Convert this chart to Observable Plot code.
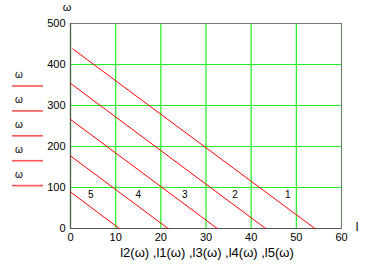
<!DOCTYPE html>
<html><head><meta charset="utf-8">
<script src="https://cdn.jsdelivr.net/npm/d3@7"></script>
<script src="https://cdn.jsdelivr.net/npm/@observablehq/plot@0.6"></script>
<style>body{margin:0;background:#fff;font-family:Arial,"Liberation Sans",sans-serif}</style>
</head><body><div id="chart"></div>
<script>
const seriesNames = ["1","2","3","4","5"];
const startX = [0.5, 0, 0, 0, 0];
const startY = [438, 354, 266, 177, 89];
const endX = [54.1, 43.2, 32.5, 21.6, 10.8];
const endY = [0, 0, 0, 0, 0];
const labelX = [48.1, 36.4, 25.3, 15.0, 4.5];
const labelY = [82, 82, 82, 82, 82];
const xTicks = [0, 10, 20, 30, 40, 50, 60];
const yTicks = [0, 100, 200, 300, 400, 500];
const legendLabels = ["ω","ω","ω","ω","ω"];

const lines = [];
seriesNames.forEach((s, i) => {
  lines.push({s, x: startX[i], y: startY[i]});
  lines.push({s, x: endX[i], y: endY[i]});
});
const labels = seriesNames.map((s, i) => ({s, x: labelX[i], y: labelY[i]}));

const chart = Plot.plot({
  width: 366, height: 264,
  marginLeft: 70, marginRight: 25, marginTop: 23, marginBottom: 36,
  style: {fontFamily: "Arial, 'Liberation Sans', sans-serif", background: "#fff"},
  x: {domain: [0, 60], ticks: xTicks, label: null},
  y: {domain: [0, 500], ticks: yTicks, label: null},
  marks: [
    Plot.ruleX(xTicks, {stroke: "#22ee22", strokeWidth: 1.2}),
    Plot.ruleY(yTicks, {stroke: "#22ee22", strokeWidth: 1.2}),
    Plot.frame({stroke: "#777", strokeWidth: 1}),
    Plot.ruleX([0], {stroke: "#555", strokeWidth: 1.2}),
    Plot.ruleY([0], {stroke: "#555", strokeWidth: 1.2}),
    Plot.line(lines, {x: "x", y: "y", z: "s", stroke: "#ff0000", strokeWidth: 1}),
    Plot.text(labels, {x: "x", y: "y", text: "s", fontSize: 10, fill: "#000"}),
    Plot.axisX({ticks: xTicks, tickSize: 0, tickPadding: 5, fontSize: 11, label: null, fill: "#000"}),
    Plot.axisY({ticks: yTicks, tickSize: 0, tickPadding: 5, fontSize: 11, label: null, fill: "#000"})
  ]
});

const svg = d3.select(chart);
svg.append("text").attr("x", 67).attr("y", 11).attr("text-anchor", "middle")
  .attr("font-size", 11).text("ω");
svg.append("text").attr("x", 357).attr("y", 231).attr("text-anchor", "middle")
  .attr("font-size", 12).text("l");
svg.append("text").attr("x", 207).attr("y", 257).attr("text-anchor", "middle")
  .attr("font-size", 13).text("l2(ω) ,l1(ω) ,l3(ω) ,l4(ω) ,l5(ω)");
legendLabels.forEach((t, i) => {
  const y0 = 75 + i * 24.9;
  svg.append("text").attr("x", 19).attr("y", y0 + 3).attr("text-anchor", "middle")
    .attr("font-size", 10).text(t);
  svg.append("line").attr("x1", 12).attr("x2", 43).attr("y1", y0 + 11).attr("y2", y0 + 11)
    .attr("stroke", "#ff5555").attr("stroke-width", 1.6);
});
document.getElementById("chart").appendChild(chart);
</script></body></html>
